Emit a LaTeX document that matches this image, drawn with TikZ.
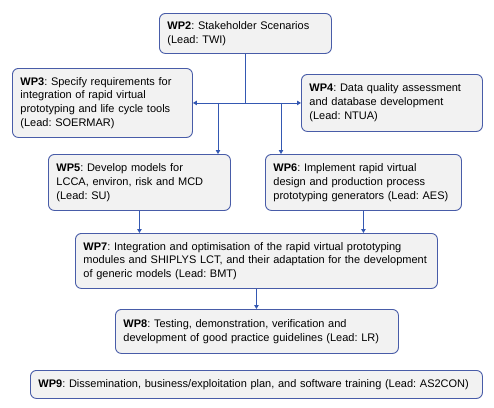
\documentclass[tikz,border=0pt]{standalone}
\usepackage{fontspec}
\setmainfont{Liberation Sans}
\usetikzlibrary{arrows.meta}
\definecolor{boxborder}{RGB}{72,92,168}
\definecolor{boxfill}{RGB}{242,242,242}
\definecolor{linecol}{RGB}{52,88,178}
\frenchspacing
\begin{document}
\begin{tikzpicture}[x=1pt,y=-1pt,
  wpbox/.style={draw=boxborder,fill=boxfill,line width=0.9pt,rounded corners=6pt,
    inner xsep=8pt,inner ysep=0pt,align=left,anchor=north west,
    font=\fontsize{11}{13.8}\selectfont},
  conn/.style={draw=linecol,line width=0.9pt},
  arr/.style={conn,-{Triangle[length=4pt,width=4.5pt]}}]
\useasboundingbox[fill=white] (0,0) rectangle (494,407);
\newcommand{\wpnode}[7]{%
  \node[wpbox,minimum width=#4-#2,minimum height=#5-#3,text width=#4-#2-16] (#1) at (#2,#3) {#7};}
\wpnode{wp2}{159}{13}{331}{53}{}{\textbf{WP2}: Stakeholder Scenarios\\(Lead: TWI)}
\wpnode{wp3}{12}{68}{192}{137}{}{\textbf{WP3}: Specify requirements for\\integration of rapid virtual\\prototyping and life cycle tools\\(Lead: SOERMAR)}
\wpnode{wp4}{301}{74}{482}{131}{}{\textbf{WP4}: Data quality assessment\\and database development\\(Lead: NTUA)}
\wpnode{wp5}{48}{154}{230}{210}{}{\textbf{WP5}: Develop models for\\LCCA, environ, risk and MCD\\(Lead: SU)}
\wpnode{wp6}{265}{154}{461}{210}{}{\textbf{WP6}: Implement rapid virtual\\design and production process\\prototyping generators (Lead: AES)}
\wpnode{wp7}{75}{233}{437}{288}{}{\textbf{WP7}: Integration and optimisation of the rapid virtual prototyping\\modules and SHIPLYS LCT, and their adaptation for the development\\of generic models (Lead: BMT)}
\wpnode{wp8}{115}{309}{398}{353}{}{\textbf{WP8}: Testing, demonstration, verification and\\development of good practice guidelines (Lead: LR)}
\wpnode{wp9}{30}{370}{482}{398}{}{\textbf{WP9}: Dissemination, business/exploitation plan, and software training (Lead: AS2CON)}
\coordinate (j) at (wp2.south |- wp3.east);
\coordinate (ja) at (218,0);
\coordinate (jb) at (281,0);
\draw[conn] (wp2.south) -- (j);
\draw[arr] (j) -- (wp3.east);
\draw[arr] (j) -- (wp4.west);
\draw[arr] (ja |- wp3.east) -- (ja |- wp5.north);
\draw[arr] (jb |- wp3.east) -- (jb |- wp6.north);
\draw[arr] (wp5.south) -- (wp5.south |- wp7.north);
\draw[arr] (wp6.south) -- (wp6.south |- wp7.north);
\draw[arr] (wp7.south) -- (wp7.south |- wp8.north);
\end{tikzpicture}
\end{document}
